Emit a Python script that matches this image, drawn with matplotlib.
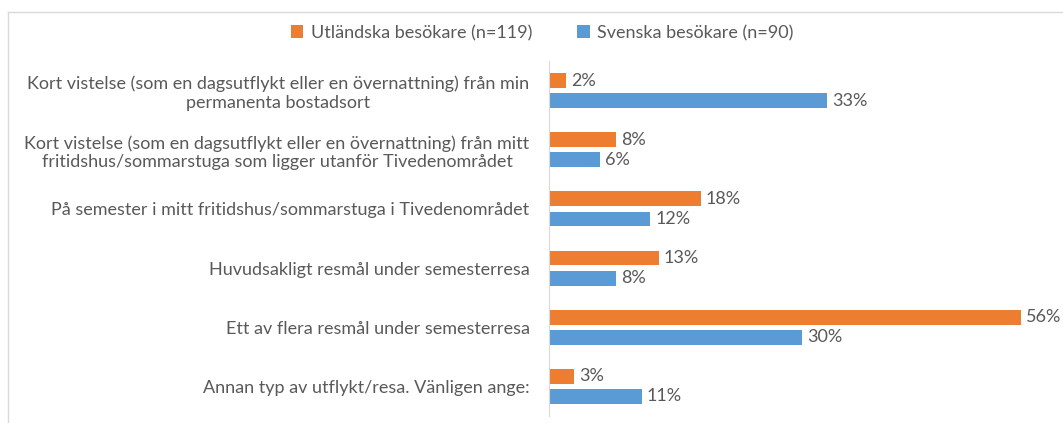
import matplotlib
matplotlib.use("Agg")
import matplotlib.pyplot as plt
from matplotlib.lines import Line2D

categories = [
    "Kort vistelse (som en dagsutflykt eller en övernattning) från min\npermanenta bostadsort",
    "Kort vistelse (som en dagsutflykt eller en övernattning) från mitt\nfritidshus/sommarstuga som ligger utanför Tivedenområdet",
    "På semester i mitt fritidshus/sommarstuga i Tivedenområdet",
    "Huvudsakligt resmål under semesterresa",
    "Ett av flera resmål under semesterresa",
    "Annan typ av utflykt/resa. Vänligen ange:",
]
utlandska = [2, 8, 18, 13, 56, 3]
svenska = [33, 6, 12, 8, 30, 11]
series_names = ["Utländska besökare (n=119)", "Svenska besökare (n=90)"]

orange = "#ED7D31"
blue = "#5B9BD5"
txt = "#595959"

plt.rcParams["font.family"] = ["Lato", "DejaVu Sans"]

fig = plt.figure(figsize=(10.63, 4.23), dpi=100)
ax = fig.add_axes([549 / 1063, 1 - 416 / 423, 1 - 549 / 1063, 355 / 423])

y = list(range(len(categories)))
h = 0.25
off = 0.17
b1 = ax.barh([i - off for i in y], utlandska, height=h, color=orange, label=series_names[0])
b2 = ax.barh([i + off for i in y], svenska, height=h, color=blue, label=series_names[1])

for bars, vals in [(b1, utlandska), (b2, svenska)]:
    for bar, v in zip(bars, vals):
        ax.text(bar.get_width() + 0.6, bar.get_y() + bar.get_height() / 2, f"{v}%",
                va="center", ha="left", fontsize=13, color=txt)

ax.set_xlim(0, 61)
ax.set_ylim(len(categories) - 0.5, -0.5)
ax.set_yticks(y)
ax.set_yticklabels(categories, fontsize=13, color=txt, multialignment="center")
ax.tick_params(axis="y", length=0, pad=14)
ax.set_xticks([])
for s in ["top", "right", "bottom"]:
    ax.spines[s].set_visible(False)
ax.spines["left"].set_color("#D9D9D9")

# chart frame
fig.add_artist(Line2D([8 / 1063, 1], [1 - 12 / 423, 1 - 12 / 423], color="#D9D9D9", lw=1))
fig.add_artist(Line2D([8 / 1063, 8 / 1063], [0, 1 - 12 / 423], color="#D9D9D9", lw=1))

fig.legend(handles=[b1, b2], labels=series_names, loc="center", bbox_to_anchor=(542 / 1063, 1 - 33 / 423),
           ncol=2, frameon=False, fontsize=13, labelcolor=txt, handlelength=0.7, handleheight=0.7,
           handletextpad=0.4, columnspacing=2.5)

fig.savefig("out.png", dpi=100)
